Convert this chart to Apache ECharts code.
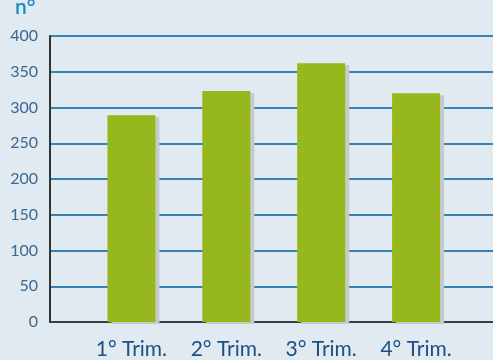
<!DOCTYPE html>
<html>
<head>
<meta charset="utf-8">
<script src="https://cdn.jsdelivr.net/npm/echarts@6/dist/echarts.min.js"></script>
<style>
html,body{margin:0;padding:0;background:#e1e9f1;}
#c{width:493px;height:360px;}
</style>
</head>
<body>
<div id="c"></div>
<script>
const categories = ['1° Trim.', '2° Trim.', '3° Trim.', '4° Trim.'];
const values = [289, 323, 362, 320];
const yMin = 0, yMax = 400, yStep = 50;
const unitLabel = 'n°';

const chart = echarts.init(document.getElementById('c'), null, {renderer: 'canvas'});
const font = 'Lato, "Open Sans", sans-serif';
chart.setOption({
  backgroundColor: '#e1e9f1',
  animation: false,
  graphic: [{
    type: 'text', left: 15, top: -3,
    style: { text: unitLabel, fill: '#1a8cc6', font: '600 21px ' + font }
  }],
  grid: [
    { left: 50, right: 0, top: 36, bottom: 38 },
    { left: 84, right: 29.5, top: 36, bottom: 38 }
  ],
  xAxis: [
    { type: 'value', gridIndex: 0, min: 0, max: 1,
      axisLine: { show: true, lineStyle: { color: '#3a3d42', width: 2 } },
      axisTick: { show: false }, axisLabel: { show: false }, splitLine: { show: false } },
    { type: 'category', gridIndex: 1, data: categories,
      axisLine: { show: false }, axisTick: { show: false },
      axisLabel: { color: '#1d4f85', fontSize: 21, fontFamily: font, margin: 17 } }
  ],
  yAxis: [
    { type: 'value', gridIndex: 0, min: yMin, max: yMax, interval: yStep,
      axisLine: { show: true, lineStyle: { color: '#2f3236', width: 2 } },
      axisTick: { show: false },
      axisLabel: { color: '#3a6890', fontSize: 16, fontFamily: font, margin: 12 },
      splitLine: { show: true, lineStyle: { color: '#3584b5', width: 2 } } },
    { type: 'value', gridIndex: 1, min: yMin, max: yMax, interval: yStep, show: false,
      splitLine: { show: false } }
  ],
  series: [{
    type: 'bar', xAxisIndex: 1, yAxisIndex: 1, data: values, barWidth: 48, z: 3,
    itemStyle: { color: '#97b81d', shadowColor: '#c6cacd', shadowOffsetX: 4, shadowOffsetY: 2, shadowBlur: 0 }
  }]
});
</script>
</body>
</html>
